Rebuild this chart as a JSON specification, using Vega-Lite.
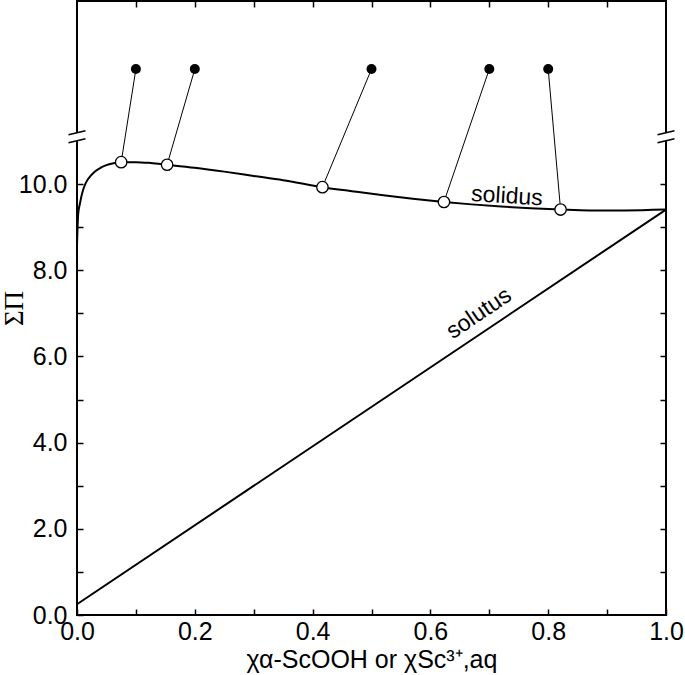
{
  "$schema": "https://vega.github.io/schema/vega-lite/v6.json",
  "width": 589,
  "height": 614,
  "autosize": {"type": "none"},
  "padding": {"left": 77, "top": 1, "right": 19, "bottom": 60},
  "background": "white",
  "config": {
    "view": {"stroke": "black", "strokeWidth": 2},
    "axis": {
      "labelFont": "Liberation Sans",
      "labelFontSize": 25,
      "labelColor": "black",
      "tickColor": "black",
      "tickSize": 6,
      "tickWidth": 1.5,
      "offset": -6,
      "domain": false,
      "grid": false,
      "titleFont": "Liberation Sans",
      "titleFontSize": 25,
      "titleColor": "black",
      "titleFontWeight": "normal"
    }
  },
  "datasets": {
    "solidus": [
      {"x": 0.0, "y": 8.6}, {"x": 0.002, "y": 9.3}, {"x": 0.005, "y": 9.55},
      {"x": 0.01, "y": 9.85}, {"x": 0.015, "y": 10.03}, {"x": 0.02, "y": 10.14},
      {"x": 0.03, "y": 10.29}, {"x": 0.04, "y": 10.38}, {"x": 0.05, "y": 10.44},
      {"x": 0.06, "y": 10.48}, {"x": 0.075, "y": 10.51}, {"x": 0.1, "y": 10.51},
      {"x": 0.125, "y": 10.49}, {"x": 0.153, "y": 10.45}, {"x": 0.2, "y": 10.38},
      {"x": 0.25, "y": 10.29}, {"x": 0.3, "y": 10.19}, {"x": 0.35, "y": 10.09},
      {"x": 0.4167, "y": 9.93}, {"x": 0.47, "y": 9.83}, {"x": 0.52, "y": 9.74},
      {"x": 0.57, "y": 9.66}, {"x": 0.623, "y": 9.585}, {"x": 0.67, "y": 9.53},
      {"x": 0.72, "y": 9.48}, {"x": 0.77, "y": 9.44}, {"x": 0.821, "y": 9.41},
      {"x": 0.87, "y": 9.39}, {"x": 0.93, "y": 9.39}, {"x": 1.0, "y": 9.41}
    ],
    "solutus": [
      {"x": 0.0, "y": 0.25}, {"x": 1.0, "y": 9.41}
    ],
    "tielines": [
      {"pair": 1, "x": 0.1, "y": 12.67}, {"pair": 1, "x": 0.075, "y": 10.51},
      {"pair": 2, "x": 0.2, "y": 12.67}, {"pair": 2, "x": 0.153, "y": 10.45},
      {"pair": 3, "x": 0.5, "y": 12.67}, {"pair": 3, "x": 0.4167, "y": 9.93},
      {"pair": 4, "x": 0.7, "y": 12.67}, {"pair": 4, "x": 0.623, "y": 9.585},
      {"pair": 5, "x": 0.8, "y": 12.67}, {"pair": 5, "x": 0.821, "y": 9.41}
    ],
    "aqueous": [
      {"x": 0.1, "y": 12.67}, {"x": 0.2, "y": 12.67}, {"x": 0.5, "y": 12.67},
      {"x": 0.7, "y": 12.67}, {"x": 0.8, "y": 12.67}
    ],
    "solid": [
      {"x": 0.075, "y": 10.51}, {"x": 0.153, "y": 10.45}, {"x": 0.4167, "y": 9.93},
      {"x": 0.623, "y": 9.585}, {"x": 0.821, "y": 9.41}
    ],
    "breaks": [
      {"x": 0.0, "y": 11.1}, {"x": 1.0, "y": 11.1}
    ],
    "labels": [
      {"x": 0.73, "y": 9.72, "label": "solidus", "curve": "solidus"},
      {"x": 0.6825, "y": 7.0, "label": "solutus", "curve": "solutus"}
    ]
  },
  "layer": [
    {
      "data": {"name": "solidus"},
      "mark": {"type": "line", "color": "black", "strokeWidth": 2, "interpolate": "monotone"},
      "encoding": {
        "x": {
          "field": "x", "type": "quantitative",
          "scale": {"domain": [0, 1], "nice": false, "zero": false},
          "axis": {
            "orient": "bottom",
            "values": [0, 0.1, 0.2, 0.3, 0.4, 0.5, 0.6, 0.7, 0.8, 0.9, 1.0],
            "labelExpr": "round(datum.value*10) % 2 == 0 ? format(datum.value, '.1f') : ''",
            "labelFlush": false,
            "labelPadding": 4,
            "title": "χα-ScOOH or χSc³⁺,aq",
            "titlePadding": 3
          }
        },
        "y": {
          "field": "y", "type": "quantitative",
          "scale": {"domain": [0, 14.25], "nice": false, "zero": false},
          "axis": {
            "orient": "left",
            "values": [0, 1, 2, 3, 4, 5, 6, 7, 8, 9, 10],
            "labelExpr": "round(datum.value) % 2 == 0 ? format(datum.value, '.1f') : ''",
            "labelPadding": 10,
            "title": "ΣΠ",
            "titleFont": "Liberation Serif",
            "titleFontSize": 27,
            "titlePadding": -10
          }
        }
      }
    },
    {
      "data": {"name": "solutus"},
      "mark": {"type": "line", "color": "black", "strokeWidth": 2},
      "encoding": {
        "x": {
          "field": "x", "type": "quantitative",
          "scale": {"domain": [0, 1], "nice": false, "zero": false},
          "axis": {
            "orient": "top",
            "values": [0.1, 0.2, 0.3, 0.4, 0.5, 0.6, 0.7, 0.8, 0.9],
            "labels": false,
            "title": null
          }
        },
        "y": {
          "field": "y", "type": "quantitative",
          "scale": {"domain": [0, 14.25], "nice": false, "zero": false},
          "axis": {
            "orient": "right",
            "values": [1, 2, 3, 4, 5, 6, 7, 8, 9, 10],
            "labels": false,
            "title": null
          }
        }
      }
    },
    {
      "data": {"name": "tielines"},
      "mark": {"type": "line", "color": "black", "strokeWidth": 1},
      "encoding": {
        "x": {"field": "x", "type": "quantitative", "scale": {"domain": [0, 1], "nice": false, "zero": false}, "axis": null},
        "y": {"field": "y", "type": "quantitative", "scale": {"domain": [0, 14.25], "nice": false, "zero": false}, "axis": null},
        "detail": {"field": "pair", "type": "nominal"}
      }
    },
    {
      "data": {"name": "aqueous"},
      "mark": {"type": "point", "shape": "circle", "filled": true, "color": "black", "size": 100, "opacity": 1},
      "encoding": {
        "x": {"field": "x", "type": "quantitative", "scale": {"domain": [0, 1], "nice": false, "zero": false}, "axis": null},
        "y": {"field": "y", "type": "quantitative", "scale": {"domain": [0, 14.25], "nice": false, "zero": false}, "axis": null}
      }
    },
    {
      "data": {"name": "solid"},
      "mark": {"type": "point", "shape": "circle", "filled": true, "fill": "white", "stroke": "black", "strokeWidth": 1.3, "size": 130, "opacity": 1},
      "encoding": {
        "x": {"field": "x", "type": "quantitative", "scale": {"domain": [0, 1], "nice": false, "zero": false}, "axis": null},
        "y": {"field": "y", "type": "quantitative", "scale": {"domain": [0, 14.25], "nice": false, "zero": false}, "axis": null}
      }
    },
    {
      "data": {"name": "breaks"},
      "mark": {"type": "point", "shape": "M-0.85,-0.2L0.85,-0.6L0.85,0.2L-0.85,0.6Z", "filled": true, "fill": "white", "strokeWidth": 0, "size": 400, "opacity": 1},
      "encoding": {
        "x": {"field": "x", "type": "quantitative", "scale": {"domain": [0, 1], "nice": false, "zero": false}, "axis": null},
        "y": {"field": "y", "type": "quantitative", "scale": {"domain": [0, 14.25], "nice": false, "zero": false}, "axis": null}
      }
    },
    {
      "data": {"name": "breaks"},
      "mark": {"type": "point", "shape": "M-0.85,-0.2L0.85,-0.6M-0.85,0.6L0.85,0.2", "filled": false, "stroke": "black", "strokeWidth": 1.5, "size": 400, "opacity": 1},
      "encoding": {
        "x": {"field": "x", "type": "quantitative", "scale": {"domain": [0, 1], "nice": false, "zero": false}, "axis": null},
        "y": {"field": "y", "type": "quantitative", "scale": {"domain": [0, 14.25], "nice": false, "zero": false}, "axis": null}
      }
    },
    {
      "data": {"name": "labels"},
      "transform": [{"filter": "datum.curve == 'solidus'"}],
      "mark": {"type": "text", "font": "Liberation Sans", "fontSize": 23, "color": "black", "angle": 3.5, "align": "center", "baseline": "middle"},
      "encoding": {
        "x": {"field": "x", "type": "quantitative", "scale": {"domain": [0, 1], "nice": false, "zero": false}, "axis": null},
        "y": {"field": "y", "type": "quantitative", "scale": {"domain": [0, 14.25], "nice": false, "zero": false}, "axis": null},
        "text": {"field": "label"}
      }
    },
    {
      "data": {"name": "labels"},
      "transform": [{"filter": "datum.curve == 'solutus'"}],
      "mark": {"type": "text", "font": "Liberation Sans", "fontSize": 23, "color": "black", "angle": -34, "align": "center", "baseline": "middle"},
      "encoding": {
        "x": {"field": "x", "type": "quantitative", "scale": {"domain": [0, 1], "nice": false, "zero": false}, "axis": null},
        "y": {"field": "y", "type": "quantitative", "scale": {"domain": [0, 14.25], "nice": false, "zero": false}, "axis": null},
        "text": {"field": "label"}
      }
    }
  ],
  "resolve": {"axis": {"x": "independent", "y": "independent"}}
}
